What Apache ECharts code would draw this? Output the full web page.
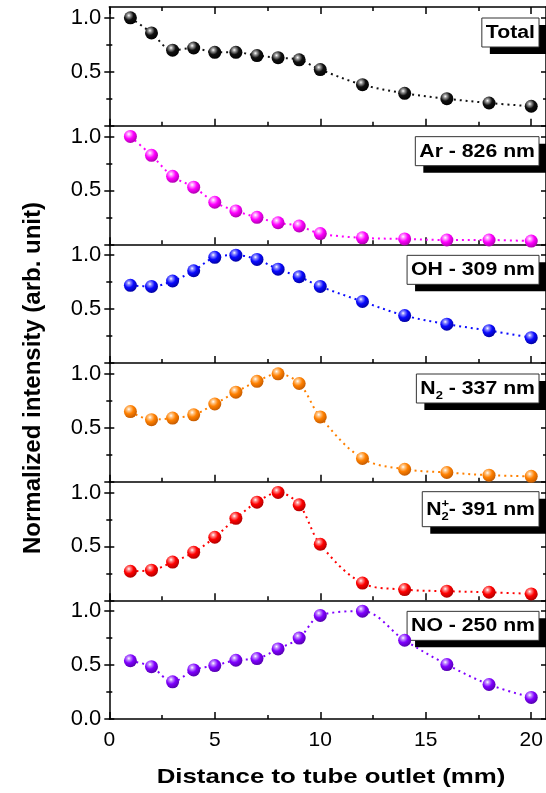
<!DOCTYPE html>
<html>
<head>
<meta charset="utf-8">
<script src="https://cdn.jsdelivr.net/npm/echarts@6/dist/echarts.min.js"></script>
<style>
  html, body { margin: 0; padding: 0; background: #fff; }
  #chart { width: 546px; height: 793px; }
</style>
</head>
<body>
<div id="chart"></div>
<script>
// Normalized emission intensity versus distance from the tube outlet (mm)
const distance = [1, 2, 3, 4, 5, 6, 7, 8, 9, 10, 12, 14, 16, 18, 20];

const totalIntensity  = [1.00, 0.86, 0.70, 0.72, 0.68, 0.68, 0.65, 0.63, 0.61, 0.52, 0.38, 0.30, 0.25, 0.21, 0.18];
const arIntensity     = [1.00, 0.825, 0.63, 0.53, 0.39, 0.31, 0.25, 0.20, 0.17, 0.10, 0.06, 0.05, 0.04, 0.04, 0.03];
const ohIntensity     = [0.72, 0.71, 0.76, 0.855, 0.98, 1.00, 0.96, 0.87, 0.80, 0.71, 0.57, 0.44, 0.36, 0.30, 0.235];
const n2Intensity     = [0.65, 0.575, 0.59, 0.62, 0.72, 0.83, 0.93, 1.00, 0.91, 0.60, 0.215, 0.115, 0.085, 0.06, 0.05];
const n2PlusIntensity = [0.27, 0.28, 0.355, 0.445, 0.585, 0.76, 0.91, 1.00, 0.885, 0.52, 0.16, 0.10, 0.085, 0.075, 0.06];
const noIntensity     = [0.54, 0.485, 0.345, 0.455, 0.495, 0.545, 0.56, 0.65, 0.75, 0.96, 1.00, 0.73, 0.505, 0.32, 0.20];

const panelSeries = [totalIntensity, arIntensity, ohIntensity, n2Intensity, n2PlusIntensity, noIntensity];
const panelNames  = ['Total', 'Ar - 826 nm', 'OH - 309 nm', 'N2 - 337 nm', 'N2+ - 391 nm', 'NO - 250 nm'];

// Panel tags, split into runs so the molecular sub/superscripts can be set smaller
const panelTags = [
  [{ text: 'Total' }],
  [{ text: 'Ar - 826 nm' }],
  [{ text: 'OH - 309 nm' }],
  [{ text: 'N' }, { text: '2', script: 'sub' }, { text: ' - 337 nm' }],
  [{ text: 'N' }, { text: '+', script: 'sup', stacked: true }, { text: '2', script: 'sub' }, { text: '- 391 nm' }],
  [{ text: 'NO - 250 nm' }]
];

// base, highlight, shadow tones for the shaded ball markers
const panelColors = [
  ['#111111', '#9a9a9a', '#000000'],
  ['#ff00ff', '#ff9cff', '#a800a8'],
  ['#0a0aff', '#8c8cff', '#00009c'],
  ['#ff8000', '#ffc88c', '#c05800'],
  ['#ff0000', '#ff8c8c', '#a80000'],
  ['#8000ff', '#c490ff', '#5000a8']
];

const xMajorTicks = [0, 5, 10, 15, 20];
const xMinorTicks = [2.5, 7.5, 12.5, 17.5];
const yMajorTicks = [0, 0.5, 1.0];
const yMinorTicks = [0.25, 0.75];

// ---- layout ----
const FONT = '"Liberation Sans", Arial, sans-serif';
const GRID_LEFT = 109.3;
const GRID_WIDTH = 437.8;
const GRID_TOP = 7;
const PANEL_H = 118.67;
const X_MAX = 20.7;
const Y_MAX = 1.1;
const AXIS_LINE = { color: '#000', width: 1.5 };

const grids = [], xAxes = [], yAxes = [], series = [], graphics = [];

function xAxis(panel, position, ticks, len, opts) {
  return Object.assign({
    gridIndex: panel, type: 'value', min: 0, max: X_MAX, position: position,
    axisLine: { show: false, onZero: false },
    axisTick: { show: true, inside: true, length: len, customValues: ticks, lineStyle: AXIS_LINE },
    axisLabel: { show: false },
    splitLine: { show: false }
  }, opts || {});
}

function yAxis(panel, position, ticks, len, inside, opts) {
  return Object.assign({
    gridIndex: panel, type: 'value', min: 0, max: Y_MAX, position: position,
    axisLine: { show: false, onZero: false },
    axisTick: { show: true, inside: inside, length: len, customValues: ticks, lineStyle: AXIS_LINE },
    axisLabel: { show: false },
    splitLine: { show: false }
  }, opts || {});
}

const measureCtx = document.createElement('canvas').getContext('2d');
function textWidth(str, font) {
  measureCtx.font = font;
  return measureCtx.measureText(str).width;
}

const TAG_FONT = 'bold 18px "Liberation Sans"';
const SCRIPT_FONT = 'bold 11px "Liberation Sans"';
const STRETCH = 1.18;

function buildTag(runs, panelTop, tall) {
  const h = tall ? 35 : 29;
  const pad = 4;
  let w = 0;
  const placed = [];
  runs.forEach(function (r) {
    const font = r.script ? SCRIPT_FONT : TAG_FONT;
    const rw = textWidth(r.text, font) * STRETCH;
    placed.push({ run: r, font: font, dx: w });
    if (!r.stacked) w += rw;
  });
  const boxW = w + 2 * pad;
  const boxL = 539 - boxW;
  const top = panelTop + (tall ? 10 : 11);
  const mid = top + h / 2 + 0.5;
  const children = [
    { type: 'rect', shape: { x: boxL + 8, y: top + 7, width: boxW, height: h }, style: { fill: '#000' } },
    { type: 'rect', shape: { x: boxL, y: top, width: boxW, height: h }, style: { fill: '#fff', stroke: '#333', lineWidth: 1 } }
  ];
  placed.forEach(function (p) {
    const dy = p.run.script === 'sub' ? 7 : (p.run.script === 'sup' ? -6 : 0);
    children.push({
      type: 'text', x: boxL + pad + p.dx, y: mid + dy, scaleX: STRETCH,
      style: { text: p.run.text, font: p.font, fill: '#000', align: 'left', verticalAlign: 'middle' }
    });
  });
  return { type: 'group', z: 100, children: children };
}

for (let i = 0; i < 6; i++) {
  const top = GRID_TOP + i * PANEL_H;
  const last = i === 5;
  grids.push({ left: GRID_LEFT, top: top, width: GRID_WIDTH, height: PANEL_H, containLabel: false });

  // x axes: bottom frame with ticks pointing up into the panel
  const mainX = xAxes.length;
  xAxes.push(xAxis(i, 'bottom', xMajorTicks, 7, {
    axisLine: { show: true, onZero: false, lineStyle: AXIS_LINE },
    axisLabel: {
      show: last, customValues: xMajorTicks, margin: 11,
      fontFamily: FONT, fontSize: 21, color: '#000'
    }
  }));
  xAxes.push(xAxis(i, 'bottom', xMinorTicks, 4));
  if (i === 0) {
    xAxes.push(xAxis(i, 'top', xMajorTicks, 7, { axisLine: { show: true, onZero: false, lineStyle: AXIS_LINE } }));
    xAxes.push(xAxis(i, 'top', xMinorTicks, 4));
  }

  // y axes: left frame with crossing ticks, right frame with inner ticks
  const mainY = yAxes.length;
  yAxes.push(yAxis(i, 'left', yMajorTicks, 5, true, {
    axisLine: { show: true, onZero: false, lineStyle: AXIS_LINE },
    axisLabel: {
      show: true, customValues: last ? yMajorTicks : yMajorTicks.slice(1), margin: 8,
      fontFamily: FONT, fontSize: 22, color: '#000',
      formatter: function (v) { return Number(v).toFixed(1); }
    }
  }));
  yAxes.push(yAxis(i, 'left', yMajorTicks, 5, false));
  yAxes.push(yAxis(i, 'left', yMinorTicks, 3, true));
  yAxes.push(yAxis(i, 'left', yMinorTicks, 3, false));
  yAxes.push(yAxis(i, 'right', yMajorTicks, 5, true, { axisLine: { show: true, onZero: false, lineStyle: AXIS_LINE } }));
  yAxes.push(yAxis(i, 'right', yMinorTicks, 3, true));

  const c = panelColors[i];
  series.push({
    name: panelNames[i],
    type: 'line',
    xAxisIndex: mainX,
    yAxisIndex: mainY,
    data: distance.map(function (d, k) { return [d, panelSeries[i][k]]; }),
    smooth: 0.35,
    clip: false,
    symbol: 'circle',
    symbolSize: 13,
    lineStyle: { color: c[0], width: 2, type: [2, 4] },
    itemStyle: {
      color: {
        type: 'radial', x: 0.38, y: 0.32, r: 0.72,
        colorStops: [
          { offset: 0, color: '#ffffff' },
          { offset: 0.18, color: c[1] },
          { offset: 0.5, color: c[0] },
          { offset: 1, color: c[2] }
        ]
      },
      borderWidth: 0
    },
    emphasis: { disabled: true },
    z: 5
  });

  graphics.push(buildTag(panelTags[i], top, i === 4));
}

graphics.push({
  type: 'text', x: 33, y: 378, rotation: Math.PI / 2, z: 100,
  style: {
    text: 'Normalized intensity (arb. unit)', font: 'bold 24px "Liberation Sans"',
    fill: '#000', align: 'center', verticalAlign: 'middle'
  }
});
graphics.push({
  type: 'text', x: 331, y: 777, scaleX: 1.23, z: 100,
  style: {
    text: 'Distance to tube outlet (mm)', font: 'bold 21px "Liberation Sans"',
    fill: '#000', align: 'center', verticalAlign: 'middle'
  }
});

const chart = echarts.init(document.getElementById('chart'), null, { renderer: 'canvas' });
chart.setOption({
  animation: false,
  backgroundColor: '#fff',
  grid: grids,
  xAxis: xAxes,
  yAxis: yAxes,
  series: series,
  graphic: graphics
});
</script>
</body>
</html>
